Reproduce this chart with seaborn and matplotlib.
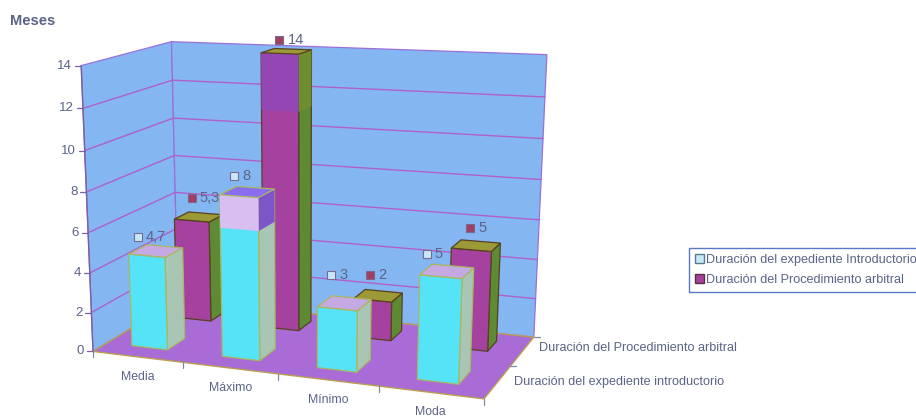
import numpy as np
import pandas as pd
import matplotlib
matplotlib.use("Agg")
import matplotlib.pyplot as plt
from matplotlib.patches import Polygon, Patch
import seaborn as sns

categories = ["Media", "Máximo", "Mínimo", "Moda"]
series_names = ["Duración del expediente Introductorio", "Duración del Procedimiento arbitral"]
depth_labels = ["Duración del expediente introductorio", "Duración del Procedimiento arbitral"]
expediente = [4.7, 8, 3, 5]
procedimiento = [5.3, 14, 2, 5]
value_text_exp = ["4,7", "8", "3", "5"]
value_text_proc = ["5,3", "14", "2", "5"]
y_ticks = [0, 2, 4, 6, 8, 10, 12, 14]

sns.set_theme(style="white", rc={"font.family": ["Liberation Sans", "DejaVu Sans"]})
W, H = 916, 419
fig = plt.figure(figsize=(W / 100, H / 100), dpi=100)
ax = fig.add_axes([0, 0, 1, 1])

# Perspective camera for the 3D box: (category, depth, value) -> canvas pixels
calib = [
    ((0, 0, 0), (92, 349)), ((1, 0, 0), (184, 361)), ((2, 0, 0), (279, 374)),
    ((3, 0, 0), (379, 388)), ((4, 0, 0), (484, 402)), ((0, 1, 0), (178, 305)),
    ((4, 1, 0), (533, 333)), ((0, 1, 14), (172, 40)), ((4, 1, 14), (547, 55)),
    ((0, 0, 14), (80, 67)), ((0, 0, 12), (83, 110)), ((0, 0, 10), (85, 150)),
    ((0, 0, 8), (87, 192)), ((0, 0, 6), (88, 232)), ((0, 0, 4), (90, 272)),
    ((0, 0, 2), (91, 311)),
]
rows = []
rhs = []
for (a, b, c), (u, v) in calib:
    rows.append([a, b, c, 1, 0, 0, 0, 0, -u * a, -u * b, -u * c])
    rows.append([0, 0, 0, 0, a, b, c, 1, -v * a, -v * b, -v * c])
    rhs += [u, v]
sol = np.linalg.lstsq(np.array(rows, float), np.array(rhs, float), rcond=None)[0]
CAM = np.append(sol, 1.0).reshape(3, 4)


def project(x, d, z):
    p = CAM @ np.array([x, d, z, 1.0])
    return p[0] / p[2], p[1] / p[2]


def face(points, color, edge, z, lw=0.9):
    ax.add_patch(Polygon([project(*p) for p in points], closed=True, facecolor=color,
                         edgecolor=edge, linewidth=lw, zorder=z))


WALL = "#84B6F2"
FLOOR = "#A96BD6"
GRID = "#B060C8"
TEXT = "#5A6488"
ZMAX = y_ticks[-1]

# Walls and floor
face([(0, 0, 0), (0, 1, 0), (0, 1, ZMAX), (0, 0, ZMAX)], WALL, "#9A70D8", 1)
face([(0, 1, 0), (4, 1, 0), (4, 1, ZMAX), (0, 1, ZMAX)], WALL, "#9A70D8", 1)

# Value gridlines running across both walls
grid_rows = []
for v in y_ticks[1:-1]:
    for x, d in [(0, 0), (0, 1), (4, 1)]:
        px, py = project(x, d, v)
        grid_rows.append({"px": px, "py": py, "level": v})
sns.lineplot(data=pd.DataFrame(grid_rows), x="px", y="py", units="level", estimator=None,
             sort=False, color=GRID, linewidth=1.0, legend=False, ax=ax, zorder=2)

face([(0, 0, 0), (4, 0, 0), (4, 1, 0), (0, 1, 0)], FLOOR, "#B8A050", 3, lw=1.0)

# Axis ticks
for v in y_ticks:
    px, py = project(0, 0, v)
    ax.plot([px - 6, px], [py, py], color="#7A60A8", lw=0.9, zorder=4)
    ax.text(px - 9, py, str(v), ha="right", va="center", fontsize=9.5, color=TEXT, zorder=6)
bx, by = project(0, 0, 0)
tx, ty = project(0, 0, ZMAX)
ax.plot([bx, tx], [by, ty], color="#7A60A8", lw=1.0, zorder=4)
for i in range(5):
    px, py = project(i, 0, 0)
    ax.plot([px, px], [py, py + 6], color="#7A8AA8", lw=0.9, zorder=4)
for d in [0.5, 1.0]:
    px, py = project(4, d, 0)
    ax.plot([px, px + 6], [py, py], color="#7A8AA8", lw=0.9, zorder=4)

# Category and depth labels
for i, name in enumerate(categories):
    px, py = project(i + 0.5, 0, 0)
    ax.text(px, py + 20, name, ha="center", va="center", fontsize=8.8, color=TEXT, zorder=6)
for d, name, (dx, dy) in zip([0.5, 1.0], depth_labels, [(4, 16), (5, 11)]):
    px, py = project(4, d, 0)
    ax.text(px + dx, py + dy, name, ha="left", va="center", fontsize=9.1, color=TEXT, zorder=6)

BAR_W = 0.40
CENTER = 0.48
ROWS = [(0.155, 0.36), (0.69, 0.87)]
COLORS = [
    {"front": "#55E3F8", "side": "#A9C6B4", "top": "#C5A9E2", "edge": "#A8B860", "mark": "#C8E8F8"},
    {"front": "#A5429F", "side": "#5E8A34", "top": "#9C9A36", "edge": "#584020", "mark": "#A04060"},
]
# Upper stretch of the two tall bars is rendered in a different shade
BANDS = {
    (0, 1): (6.4, {"front": "#D9BEF2", "side": "#7E55C6", "top": "#8B6EF0", "edge": "#A8B860"}),
    (1, 1): (11.2, {"front": "#9346B4", "side": "#6C8E2E", "top": "#9C9A36", "edge": "#584020"}),
}
# Value labels sit a fixed distance above each bar top
LABEL_SHIFT = {
    0: [(-11, -14), (-6, -16), (-6, -28), (-13, -17)],
    1: [(0, -19), (0, -11), (-1, -21), (1, -18)],
}


def draw_bar(i, row, value, style, z):
    x0, x1 = i + CENTER - BAR_W / 2, i + CENTER + BAR_W / 2
    d0, d1 = ROWS[row]
    face([(x1, d0, 0), (x1, d1, 0), (x1, d1, value), (x1, d0, value)], style["side"], style["edge"], z)
    face([(x0, d0, 0), (x1, d0, 0), (x1, d0, value), (x0, d0, value)], style["front"], style["edge"], z)
    top = style
    if (row, i) in BANDS:
        start, top = BANDS[(row, i)]
        face([(x1, d0, start), (x1, d1, start), (x1, d1, value), (x1, d0, value)], top["side"], "none", z, lw=0)
        face([(x0, d0, start), (x1, d0, start), (x1, d0, value), (x0, d0, value)], top["front"], "none", z, lw=0)
    face([(x0, d1, value), (x1, d1, value), (x1, d0, value), (x0, d0, value)], top["top"], top["edge"], z)


def value_label(i, row, value, text, style):
    d0, d1 = ROWS[row]
    px, py = project(i + CENTER, (d0 + d1) / 2, value)
    dx, dy = LABEL_SHIFT[row][i]
    px += dx
    py += dy
    ax.plot([px - 7], [py], marker="s", ms=5.5, mfc=style["mark"], mec="#7A6A90", mew=0.8, zorder=30)
    ax.text(px + 1, py, text, ha="left", va="center", fontsize=10.5, color=TEXT, zorder=30)


for i, v in enumerate(procedimiento):
    draw_bar(i, 1, v, COLORS[1], 10 + i)
for i, v in enumerate(expediente):
    draw_bar(i, 0, v, COLORS[0], 20 + i)
for i, (v, t) in enumerate(zip(procedimiento, value_text_proc)):
    value_label(i, 1, v, t, COLORS[1])
for i, (v, t) in enumerate(zip(expediente, value_text_exp)):
    value_label(i, 0, v, t, COLORS[0])

ax.set_xlim(0, W)
ax.set_ylim(H, 0)
ax.axis("off")

ax.text(10, 21, "Meses", ha="left", va="center", fontsize=10.5, fontweight="bold", color=TEXT)

handles = [Patch(facecolor=COLORS[0]["mark"], edgecolor="#5A7A90"),
           Patch(facecolor=COLORS[1]["front"], edgecolor="#583040")]
leg = ax.legend(handles, series_names, loc="upper left", bbox_to_anchor=(689, 248),
                bbox_transform=ax.transData, fontsize=9.1, frameon=True, fancybox=False,
                handlelength=0.7, handleheight=0.7, handletextpad=0.2, borderaxespad=0,
                borderpad=0.45, labelspacing=0.65, labelcolor=TEXT)
leg.get_frame().set_edgecolor("#5A78C8")
leg.get_frame().set_linewidth(1.0)
leg.get_frame().set_alpha(1)

fig.savefig("out.png", dpi=100, facecolor="white")
